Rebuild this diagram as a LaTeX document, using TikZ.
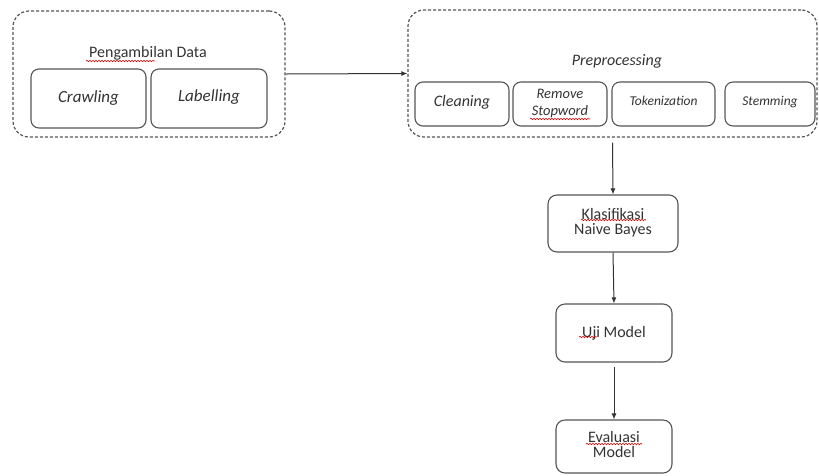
\documentclass[tikz,border=0pt]{standalone}
\usepackage{fontspec}
\setmainfont{Carlito}
\usetikzlibrary{arrows.meta,decorations.pathmorphing}
\definecolor{txt}{HTML}{333333}
\definecolor{edge}{HTML}{555555}
\tikzset{
  group/.style={draw=edge, line width=1.2pt, dash pattern=on 3pt off 2pt, rounded corners=16pt, inner sep=0pt},
  sub/.style={draw=edge, line width=1.1pt, rounded corners=8pt, inner sep=0pt, align=center, text=txt, font=\fontsize{16}{17}\selectfont\itshape},
  stepbox/.style={draw=edge, line width=1.1pt, rounded corners=9pt, inner sep=0pt, align=center, text=txt, font=\fontsize{16}{17}\selectfont},
  title/.style={text=txt, inner sep=0pt, font=\fontsize{16}{17}\selectfont},
  arr/.style={draw=black!80, line width=1pt, -{Latex[length=6pt,width=5pt]}},
  wavy/.style={draw=red!85!black, line width=0.6pt, decorate, decoration={snake, amplitude=0.7pt, segment length=3pt}}
}
\begin{document}
\begin{tikzpicture}[x=1pt,y=-1pt]
\useasboundingbox (0,0) rectangle (819,475);
% left group
\node[group, minimum width=272pt, minimum height=126pt] (gl) at (149,74) {};
\node[title] (tl) at (148,53) {Pengambilan Data};
\node[sub, minimum width=115pt, minimum height=59pt, font=\fontsize{17}{18}\selectfont\itshape] (crawl) at (88.5,98.5) {\raisebox{4pt}{Crawling}};
\node[sub, minimum width=116pt, minimum height=59pt, font=\fontsize{17}{18}\selectfont\itshape] (lab) at (209,98.5) {\raisebox{5pt}{Labelling}};
% right group
\node[group, minimum width=409pt, minimum height=127pt] (gr) at (612.5,73.5) {};
\node[title, font=\fontsize{16}{17}\selectfont\itshape] (tr) at (617,61) {Preprocessing};
\node[sub, minimum width=94pt, minimum height=44pt] (clean) at (462,104) {\raisebox{6pt}{Cleaning}};
\node[sub, minimum width=94pt, minimum height=44pt, font=\fontsize{14.5}{17}\selectfont\itshape] (rem) at (560,104) {Remove\\Stopword};
\node[sub, minimum width=103pt, minimum height=44pt, font=\fontsize{13.5}{16}\selectfont\itshape] (tok) at (663.5,104) {\raisebox{7pt}{Tokenization}};
\node[sub, minimum width=90pt, minimum height=44pt, font=\fontsize{13.5}{16}\selectfont\itshape] (stem) at (770,104) {\raisebox{7pt}{Stemming}};
% vertical steps
\node[stepbox, minimum width=130pt, minimum height=57pt] (klas) at (613,223.5) {\raisebox{4pt}{\shortstack{Klasifikasi\\[1pt]Naive Bayes}}};
\node[stepbox, minimum width=116pt, minimum height=58pt] (uji) at (614,333) {\raisebox{3pt}{Uji Model}};
\node[stepbox, minimum width=116pt, minimum height=53pt] (eval) at (614,446.5) {\raisebox{4pt}{\shortstack{Evaluasi\\[1pt]Model}}};
% spell-check underlines
\draw[wavy] (86,61) -- (155,61);
\draw[wavy] (530,119) -- (590,119);
\draw[wavy] (581,220) -- (646,220);
\draw[wavy] (579,337) -- (597,337);
\draw[wavy] (586,444) -- (642,444);
% connectors
\draw[arr] (gl.east) -- (gr.west);
\draw[arr] ([yshift=-5pt]gr.south) -- (klas.north);
\draw[arr] (klas.south) -- (uji.north);
\draw[arr] ([yshift=-4pt]uji.south) -- (eval.north);
\end{tikzpicture}
\end{document}
